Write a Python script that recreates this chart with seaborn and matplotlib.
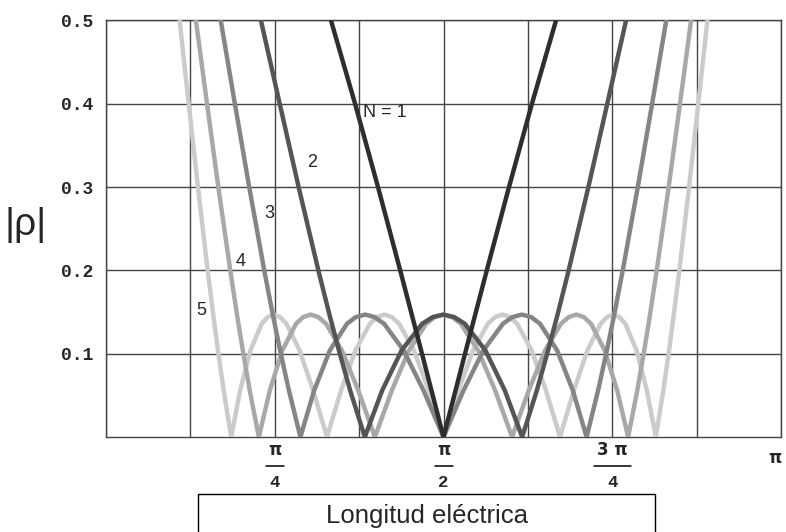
import numpy as np
import pandas as pd
import matplotlib
matplotlib.use("Agg")
import matplotlib.pyplot as plt
from matplotlib.patches import Rectangle
import seaborn as sns

# electrical length (degrees) and |rho|, one pair per N
theta_n1 = [60.0, 66.42, 72.54, 78.46, 84.26, 90.0, 95.74, 101.54, 107.46, 113.58, 120.0]
rho_n1 = [0.5, 0.4, 0.3, 0.2, 0.1, 0.0, 0.1, 0.2, 0.3, 0.4, 0.5]

theta_n2 = [41.32, 46.33, 51.37, 56.63, 59.58, 60.23, 62.11, 65.10, 69.02, 73.66,
            78.83, 84.33, 87.16, 90.0, 92.84, 95.67, 101.17, 106.34, 110.98, 114.90,
            117.89, 119.77, 120.42, 123.37, 128.63, 133.67, 138.68]
rho_n2 = [0.5, 0.4, 0.3, 0.2, 0.147, 0.136, 0.104, 0.056, 0.0, 0.056,
          0.104, 0.136, 0.144, 0.147, 0.144, 0.136, 0.104, 0.056, 0.0, 0.056,
          0.104, 0.136, 0.147, 0.2, 0.3, 0.4, 0.5]

theta_n3 = [30.6, 34.37, 38.19, 42.2, 44.47, 44.97, 46.43, 48.77, 51.84, 55.52,
            59.70, 64.26, 66.64, 69.09, 71.60, 74.15, 79.36, 84.66, 90.0, 95.34,
            100.64, 105.85, 108.40, 110.91, 113.36, 115.74, 120.30, 124.48, 128.16, 131.23,
            133.57, 135.03, 135.53, 137.8, 141.81, 145.63, 149.4]
rho_n3 = [0.5, 0.4, 0.3, 0.2, 0.147, 0.136, 0.104, 0.056, 0.0, 0.056,
          0.104, 0.136, 0.144, 0.147, 0.144, 0.136, 0.104, 0.056, 0.0, 0.056,
          0.104, 0.136, 0.144, 0.147, 0.144, 0.136, 0.104, 0.056, 0.0, 0.056,
          0.104, 0.136, 0.147, 0.2, 0.3, 0.4, 0.5]

theta_n4 = [23.98, 26.94, 29.95, 33.14, 34.93, 35.31, 36.48, 38.32, 40.76, 43.69,
            47.02, 50.67, 52.59, 54.56, 56.59, 58.66, 62.90, 67.26, 71.71, 76.23,
            80.79, 85.39, 87.69, 90.0, 92.31, 94.61, 99.21, 103.77, 108.29, 112.74,
            117.10, 121.34, 123.41, 125.44, 127.41, 129.33, 132.98, 136.31, 139.24, 141.68,
            143.52, 144.69, 145.07, 146.86, 150.05, 153.06, 156.02]
rho_n4 = [0.5, 0.4, 0.3, 0.2, 0.147, 0.136, 0.104, 0.056, 0.0, 0.056,
          0.104, 0.136, 0.144, 0.147, 0.144, 0.136, 0.104, 0.056, 0.0, 0.056,
          0.104, 0.136, 0.144, 0.147, 0.144, 0.136, 0.104, 0.056, 0.0, 0.056,
          0.104, 0.136, 0.144, 0.147, 0.144, 0.136, 0.104, 0.056, 0.0, 0.056,
          0.104, 0.136, 0.147, 0.2, 0.3, 0.4, 0.5]

theta_n5 = [19.63, 22.06, 24.52, 27.11, 28.59, 28.91, 29.85, 31.38, 33.38, 35.78,
            38.52, 41.52, 43.12, 44.73, 46.40, 48.11, 51.62, 55.23, 58.93, 62.69,
            66.51, 70.37, 72.31, 74.26, 76.21, 78.17, 82.10, 86.05, 90.0, 93.95,
            97.90, 101.83, 103.79, 105.74, 107.69, 109.63, 113.49, 117.31, 121.07, 124.77,
            128.38, 131.89, 133.60, 135.27, 136.88, 138.48, 141.48, 144.22, 146.62, 148.62,
            150.15, 151.09, 151.41, 152.89, 155.48, 157.94, 160.37]
rho_n5 = [0.5, 0.4, 0.3, 0.2, 0.147, 0.136, 0.104, 0.056, 0.0, 0.056,
          0.104, 0.136, 0.144, 0.147, 0.144, 0.136, 0.104, 0.056, 0.0, 0.056,
          0.104, 0.136, 0.144, 0.147, 0.144, 0.136, 0.104, 0.056, 0.0, 0.056,
          0.104, 0.136, 0.144, 0.147, 0.144, 0.136, 0.104, 0.056, 0.0, 0.056,
          0.104, 0.136, 0.144, 0.147, 0.144, 0.136, 0.104, 0.056, 0.0, 0.056,
          0.104, 0.136, 0.147, 0.2, 0.3, 0.4, 0.5]

grid_x = [0, 22.5, 45, 67.5, 90, 112.5, 135, 157.5, 180]
y_ticks = [0.1, 0.2, 0.3, 0.4, 0.5]
y_tick_labels = ["0.1", "0.2", "0.3", "0.4", "0.5"]

# fraction-style x labels
frac_x = [45, 90, 135]
frac_num = ["\u03c0", "\u03c0", "3 \u03c0"]
frac_den = ["4", "2", "4"]
frac_halfwidth = [2.4, 2.4, 4.9]

# curve labels
curve_labels = ["N = 1", "2", "3", "4", "5"]
label_x = [68.6, 55.0, 43.5, 36.0, 25.4]
label_y = [0.389, 0.329, 0.268, 0.211, 0.152]

frames = []
for n, th, r in [(1, theta_n1, rho_n1), (2, theta_n2, rho_n2), (3, theta_n3, rho_n3),
                 (4, theta_n4, rho_n4), (5, theta_n5, rho_n5)]:
    frames.append(pd.DataFrame({"theta": th, "rho": r, "N": n}))
df = pd.concat(frames, ignore_index=True)

sns.set_style("white")
plt.rcParams["font.family"] = ["Liberation Sans", "DejaVu Sans"]

palette = {1: "#2e2e2e", 2: "#555555", 3: "#858585", 4: "#a8a8a8", 5: "#cbcbcb"}

fig = plt.figure(figsize=(7.86, 5.32), dpi=100)
ax = fig.add_axes([106 / 786, 95 / 532, 675 / 786, 416.5 / 532])

sns.lineplot(data=df, x="theta", y="rho", hue="N", hue_order=[5, 4, 3, 2, 1],
             palette=palette, estimator=None, sort=False, linewidth=3.2,
             legend=False, ax=ax, zorder=3)
for ln in ax.get_lines():
    ln.set_solid_joinstyle("round")

ax.set_xlim(0, 180)
ax.set_ylim(0, 0.5)
ax.set_xticks(grid_x)
ax.set_xticklabels([])
ax.set_yticks(y_ticks)
ax.set_yticklabels(y_tick_labels, family="Liberation Mono", fontweight="bold", fontsize=13)
ax.tick_params(length=0, pad=9)
ax.grid(True, color="#444444", linewidth=1.0)
ax.set_xlabel("")
ax.set_ylabel("")
for s in ax.spines.values():
    s.set_visible(True)
    s.set_color("#444444")
    s.set_linewidth(1.0)

xt = ax.get_xaxis_transform()
for x, num, den, hw in zip(frac_x, frac_num, frac_den, frac_halfwidth):
    ax.text(x, -0.031, num, transform=xt, ha="center", va="center", fontsize=12,
            fontweight="bold", family="DejaVu Sans")
    ax.plot([x - hw, x + hw], [-0.069, -0.069], transform=xt, color="black",
            linewidth=1.1, clip_on=False)
    ax.text(x, -0.110, den, transform=xt, ha="center", va="center", fontsize=12.5,
            fontweight="bold", family="Liberation Mono")
ax.text(178.3, -0.05, "\u03c0", transform=xt, ha="center", va="center", fontsize=12,
        fontweight="bold", family="DejaVu Sans")

for txt, x, y in zip(curve_labels, label_x, label_y):
    ax.text(x, y, txt, ha="left" if txt.startswith("N") else "center", va="center",
            fontsize=13, zorder=5)

fig.text(26 / 786, 1 - 225 / 532, "|\u03c1|", ha="center", va="center", fontsize=28)

fig.patches.append(Rectangle((198 / 786, -0.05), 457 / 786, 0.05 + 38 / 532,
                             transform=fig.transFigure, fill=False,
                             edgecolor="black", linewidth=1.0))
fig.text(426.5 / 786, 9 / 532, "Longitud el\u00e9ctrica", ha="center", va="baseline",
         fontsize=18.5)

fig.savefig("out.png", dpi=100, facecolor="white")
